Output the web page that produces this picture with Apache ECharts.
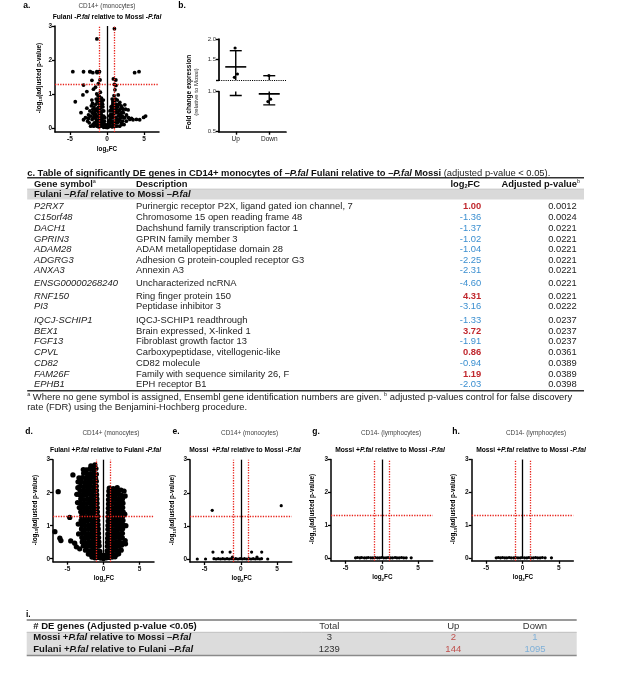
<!DOCTYPE html>
<html><head><meta charset="utf-8">
<script src="https://cdn.jsdelivr.net/npm/echarts@6/dist/echarts.min.js"></script>
<style>html,body{margin:0;padding:0;background:#fff}#c{width:617px;height:700px}</style>
</head><body><div id="c"></div>
<script>
const F = '"Liberation Sans", Arial, Helvetica, sans-serif';

// ---------- Table c : significant DE genes ----------
const cGenes = ['P2RX7','C15orf48','DACH1','GPRIN3','ADAM28','ADGRG3','ANXA3','ENSG00000268240','RNF150','PI3','IQCJ-SCHIP1','BEX1','FGF13','CPVL','CD82','FAM26F','EPHB1'];
const cDescriptions = ['Purinergic receptor P2X, ligand gated ion channel, 7','Chromosome 15 open reading frame 48','Dachshund family transcription factor 1','GPRIN family member 3','ADAM metallopeptidase domain 28','Adhesion G protein-coupled receptor G3','Annexin A3','Uncharacterized ncRNA','Ring finger protein 150','Peptidase inhibitor 3','IQCJ-SCHIP1 readthrough','Brain expressed, X-linked 1','Fibroblast growth factor 13','Carboxypeptidase, vitellogenic-like','CD82 molecule','Family with sequence similarity 26, F','EPH receptor B1'];
const cLog2FC = [1.00,-1.36,-1.37,-1.02,-1.04,-2.25,-2.31,-4.60,4.31,-3.16,-1.33,3.72,-1.91,0.86,-0.94,1.19,-2.03];
const cAdjP = [0.0012,0.0024,0.0221,0.0221,0.0221,0.0221,0.0221,0.0221,0.0221,0.0222,0.0237,0.0237,0.0237,0.0361,0.0389,0.0389,0.0398];

// ---------- Volcano plots (log2FC, -log10 adjusted p) ----------
const volcanoXTicks = [-5,0,5];
const volcanoYTicks = [0,1,2,3];
const foldLines = [-1,1];
const pLine = 1.3;

const aOtherPoints = [[-3.16,1.26],[-1.16,1.30],[-4.27,0.77],[-3.24,0.97],[-2.71,1.07],[-2.04,0.82],[-1.82,1.14],[-1.38,1.00],[-1.02,0.92],[-1.55,1.2],[-0.9,1.05],[-1.2,0.85],[-0.75,0.88],
[1.07,1.12],[1.38,0.82],[1.73,0.75],[2.4,0.68],[2.84,0.53],[1.51,0.97],[1.2,1.25],[0.95,0.95],[0.8,0.78],[1.0,1.28],
[-3.16,0.24],[-2.49,0.38],[-2.71,0.58],[-3.5,0.45],[-2.9,0.3],[-2.3,0.5],[-2.1,0.65],[-1.9,0.55],[-2.6,0.2],
[2.62,0.38],[3.07,0.25],[3.51,0.24],[4.4,0.24],[4.93,0.31],[5.2,0.35],[3.96,0.25],[3.29,0.28],[2.2,0.45],[2.5,0.55],[2.9,0.3],[2.0,0.6],
[-1.8,0.4],[-1.6,0.3],[-1.4,0.5],[-1.2,0.6],[-1.0,0.7],[-0.8,0.6],[-0.6,0.5],[-0.45,0.35],[-0.35,0.2],[-1.5,0.7],[-1.3,0.35],[-1.1,0.45],[-0.9,0.3],[-0.7,0.25],[-0.5,0.15],[-1.7,0.15],[-1.5,0.1],[-1.2,0.2],[-0.9,0.12],[-0.6,0.08],[-0.3,0.05],[-2.0,0.25],[-1.9,0.1],[-1.0,0.55],[-0.8,0.45],[-1.3,0.78],[-0.7,0.75],[-1.6,0.55],[-1.4,0.2],[-0.55,0.62],
[0.3,0.1],[0.4,0.25],[0.5,0.4],[0.6,0.55],[0.7,0.65],[0.9,0.5],[1.1,0.6],[1.3,0.45],[1.5,0.35],[1.7,0.25],[1.9,0.15],[0.6,0.15],[0.8,0.3],[1.0,0.2],[1.2,0.3],[1.4,0.15],[1.6,0.5],[1.8,0.4],[2.1,0.2],[0.8,0.72],[1.0,0.8],[1.2,0.7],[1.45,0.62],[0.5,0.05],[0.2,0.03],[-0.15,0.02],[0.05,0.01],[1.0,0.05],[-0.2,0.1],[1.7,0.05],[-1.1,0.03],[2.3,0.1],
[-2.2,0.35],[-2.0,0.45],[-1.85,0.3],[-1.7,0.45],[-1.55,0.4],[-1.45,0.25],[-1.3,0.55],[-1.25,0.1],[-1.15,0.35],[-1.05,0.25],[-0.95,0.4],[-0.85,0.2],[-0.75,0.38],[-0.65,0.15],[-0.55,0.3],[-0.45,0.5],[-0.4,0.1],[-0.3,0.3],[-1.75,0.62],[-1.45,0.85],[-1.1,0.75],[-0.9,0.65],[-0.6,0.7],[-0.5,0.82],[-2.4,0.15],[-2.2,0.05],[-1.8,0.05],[-1.35,0.05],[-0.8,0.05],[-0.45,0.02],[-0.1,0.05],[-2.5,0.28],[-1.95,0.72],[-1.2,0.95],[-0.85,0.8],
[0.35,0.35],[0.45,0.15],[0.55,0.3],[0.65,0.4],[0.7,0.2],[0.75,0.5],[0.85,0.1],[0.9,0.38],[0.95,0.6],[1.05,0.45],[1.15,0.15],[1.25,0.55],[1.35,0.25],[1.45,0.45],[1.55,0.2],[1.65,0.38],[1.75,0.55],[1.85,0.3],[1.95,0.45],[2.05,0.35],[2.15,0.55],[2.25,0.3],[0.7,0.85],[0.9,0.7],[1.15,0.85],[1.35,0.68],[0.55,0.62],[1.6,0.7],[1.9,0.65],[0.4,0.5],[0.25,0.2],[0.15,0.08],[0.7,0.03],[1.3,0.05],[2.0,0.1],[2.6,0.2],[2.4,0.3]];

const dPoints = [[-1.6,0.05],[-1.2,0.03],[-0.8,0.04],[-0.4,0.02],[0,0.01],[0.4,0.03],[0.8,0.04],[1.2,0.05],[1.6,0.06],
[-2.1,0.14],[-1.7,0.12],[-1.3,0.13],[-0.9,0.14],[-0.5,0.12],[-0.2,0.1],[0.25,0.11],[0.6,0.13],[1.0,0.14],[1.4,0.12],[1.8,0.13],[2.1,0.15],
[-2.5,0.26],[-2.05,0.24],[-1.6,0.25],[-1.15,0.27],[-0.7,0.24],[-0.5,0.22],[0.5,0.24],[0.9,0.26],[1.3,0.25],[1.7,0.27],[2.1,0.24],[2.45,0.26],
[-2.8,0.39],[-2.35,0.37],[-1.9,0.38],[-1.45,0.4],[-1.0,0.37],[-0.6,0.39],[0.55,0.38],[0.95,0.4],[1.35,0.37],[1.75,0.39],[2.15,0.38],[2.5,0.41],
[-2.95,0.51],[-2.5,0.49],[-2.05,0.5],[-1.6,0.52],[-1.15,0.49],[-0.65,0.51],[0.56,0.5],[1.0,0.52],[1.4,0.49],[1.8,0.51],[2.2,0.5],[2.55,0.48],
[-3.0,0.64],[-2.55,0.62],[-2.1,0.63],[-1.65,0.65],[-1.2,0.62],[-0.68,0.64],[0.58,0.62],[1.0,0.64],[1.42,0.63],[1.85,0.65],[2.25,0.62],[2.6,0.64],
[-2.95,0.77],[-2.5,0.75],[-2.05,0.76],[-1.6,0.78],[-1.15,0.75],[-0.7,0.77],[0.6,0.75],[1.02,0.77],[1.45,0.76],[1.88,0.78],[2.28,0.75],[2.62,0.77],
[-3.05,0.9],[-2.6,0.88],[-2.15,0.89],[-1.7,0.91],[-1.25,0.88],[-0.73,0.9],[0.62,0.89],[1.05,0.91],[1.48,0.88],[1.9,0.9],[2.3,0.89],[2.65,0.91],
[-3.0,1.03],[-2.55,1.01],[-2.1,1.02],[-1.65,1.04],[-1.2,1.01],[-0.76,1.03],[0.63,1.01],[1.06,1.03],[1.5,1.02],[1.92,1.04],[2.32,1.01],[2.68,1.03],
[-3.1,1.16],[-2.65,1.14],[-2.2,1.15],[-1.75,1.17],[-1.3,1.14],[-0.8,1.16],[0.65,1.14],[1.08,1.16],[1.52,1.15],[1.95,1.17],[2.35,1.14],[2.7,1.16],
[-3.05,1.29],[-2.6,1.27],[-2.15,1.28],[-1.7,1.3],[-1.25,1.27],[-0.82,1.29],[0.66,1.27],[1.1,1.29],[1.54,1.28],[1.97,1.3],[2.37,1.27],[2.68,1.29],
[-3.15,1.42],[-2.7,1.4],[-2.25,1.41],[-1.8,1.43],[-1.35,1.4],[-0.85,1.42],[0.67,1.4],[1.12,1.42],[1.56,1.41],[2.0,1.43],[2.4,1.4],[2.72,1.42],
[-3.1,1.55],[-2.65,1.53],[-2.2,1.54],[-1.75,1.56],[-1.3,1.53],[-0.87,1.55],[0.68,1.53],[1.13,1.55],[1.58,1.54],[2.02,1.56],[2.42,1.53],[2.66,1.55],
[-3.2,1.68],[-2.75,1.66],[-2.3,1.67],[-1.85,1.69],[-1.4,1.66],[-0.9,1.68],[0.7,1.66],[1.15,1.68],[1.6,1.67],[2.05,1.69],[2.45,1.66],[2.7,1.68],
[-3.15,1.81],[-2.7,1.79],[-2.25,1.8],[-1.8,1.82],[-1.35,1.79],[-0.92,1.81],[0.7,1.79],[1.15,1.81],[1.6,1.8],[2.05,1.82],[2.45,1.79],[2.62,1.81],
[-3.3,1.94],[-2.85,1.92],[-2.4,1.93],[-1.95,1.95],[-1.5,1.92],[-0.95,1.94],[0.72,1.92],[1.18,1.94],[1.62,1.93],[2.08,1.95],[2.5,1.92],
[-3.25,2.07],[-2.8,2.05],[-2.35,2.06],[-1.9,2.08],[-1.45,2.05],[-0.98,2.07],[0.74,2.05],[1.2,2.07],[1.65,2.04],[2.1,2.06],[2.42,2.08],
[-3.2,2.2],[-2.75,2.18],[-2.3,2.19],[-1.85,2.21],[-1.4,2.18],[-1.0,2.2],[0.8,2.14],[1.35,2.12],[1.9,2.15],
[-3.1,2.33],[-2.6,2.31],[-2.15,2.32],[-1.7,2.34],[-1.25,2.31],[-1.0,2.35],
[-2.95,2.46],[-2.45,2.44],[-2.0,2.45],[-1.55,2.47],[-1.1,2.44],
[-2.75,2.59],[-2.25,2.57],[-1.8,2.58],[-1.35,2.6],[-1.0,2.56],
[-2.4,2.69],[-1.9,2.72],[-1.4,2.7],[-1.05,2.73],
[-1.75,2.81],[-1.2,2.84],
[-6.74,0.82],[-6.28,2.03],[-6.05,0.62],[-5.9,0.55],[-4.68,1.25],[-4.54,0.54],[-3.99,0.47],[-3.76,0.36],[-3.3,0.3],[-3.53,2.33],[-4.24,2.54],[-3.6,1.7],[-3.5,1.05],[-3.45,0.75],[-3.7,1.95],[-3.55,2.15],[3.0,1.9],[3.1,1.0],[3.0,0.55],[2.95,1.35],[2.85,2.05],[3.05,0.45],[-2.8,2.7],[-3.35,1.55],[-3.4,2.45]];

const ePoints = [[-3.94,1.47],[5.56,1.61],[-3.84,0.21],[-2.55,0.21],[-1.48,0.21],[1.48,0.21],[2.87,0.21],[-1.16,0.06],[2.22,0.06],
[-6.0,0],[-4.86,0],[-3.7,0.01],[-3.4,0],[-3.1,0.01],[-2.8,0],[-2.5,0.01],[-2.2,0],[-1.9,0.01],[-1.6,0],[-1.3,0.01],[-1.0,0],[-0.7,0.01],[-0.4,0],[-0.1,0.01],[0.2,0],[0.5,0.01],[0.8,0],[1.1,0.01],[1.4,0],[1.7,0.01],[2.0,0],[2.3,0.01],[2.6,0],[2.85,0.01],[3.7,0]];
const gPoints = [[-3.62,0],[-3.35,0.01],[-3.02,0],[-2.78,0.01],[-2.41,0],[-2.13,0],[-1.86,0.01],[-1.52,0],[-1.24,0],[-0.93,0.01],[-0.61,0],[-0.33,0],[-0.05,0.01],[0.27,0],[0.58,0],[0.86,0.01],[1.19,0],[1.47,0],[1.82,0.01],[2.08,0],[2.39,0],[2.71,0.01],[3.02,0],[3.35,0],[4.04,0]];
const hPoints = [[-3.62,0],[-3.33,0.01],[-3.04,0],[-2.75,0.01],[-2.44,0],[-2.16,0],[-1.84,0.01],[-1.55,0],[-1.22,0],[-0.95,0.01],[-0.63,0],[-0.31,0],[-0.04,0.01],[0.29,0],[0.6,0],[0.88,0.01],[1.17,0],[1.49,0],[1.8,0.01],[2.1,0],[2.42,0],[2.74,0.01],[3.12,0],[3.99,0]];

// ---------- Panel b : fold change ----------
const bCategories = ['Up','Down'];
const bPoints = [[0.48,1.78],[0.55,1.146],[0.46,1.066],[1.49,1.11],[1.54,0.905],[1.46,0.875]];
const bMean = [1.32, 0.97];
const bErrLow = [0.95, 0.834];
const bErrHigh = [1.715, 1.105];
const bUpperTicks = [1, 1.5, 2];
const bUpperLabels = [1.5, 2];
const bLowerTicks = [0.5, 1];

// ---------- Table i ----------
const iGroups = [['Mossi +','Mossi –'],['Fulani +','Fulani –']];
const iTotal = [3, 1239];
const iUp = [2, 144];
const iDown = [1, 1095];

// ================= build =================
const RED = '#c0272d', BLUE = '#3b8fd0', REFRED = '#e8231b';
const grids = [], xAxes = [], yAxes = [], series = [];
const dotted = {type:'dotted', color:REFRED, width:1.3};

function axisBase(extra){ return Object.assign({splitLine:{show:false}}, extra); }

function addVolcano(g, pts, sym){
  const i = grids.length;
  grids.push({left:g.l, top:g.t, width:g.w, height:g.h});
  xAxes.push(axisBase({gridIndex:i, type:'value', min:-7, max:7,
    axisLine:{show:true, onZero:false, lineStyle:{color:'#000', width:1.5}},
    axisTick:{show:true, customValues:volcanoXTicks, length:3, lineStyle:{color:'#000', width:1.3}},
    axisLabel:{customValues:volcanoXTicks, fontSize:6.5, fontWeight:'bold', fontFamily:F, color:'#111', margin:4}}));
  yAxes.push(axisBase({gridIndex:i, type:'value', min:g.ymin, max:3,
    axisLine:{show:true, onZero:false, lineStyle:{color:'#000', width:1.5}},
    axisTick:{show:true, customValues:volcanoYTicks, length:3, lineStyle:{color:'#000', width:1.3}},
    axisLabel:{customValues:volcanoYTicks, fontSize:6.5, fontWeight:'bold', fontFamily:F, color:'#111', margin:3}}));
  series.push({type:'scatter', xAxisIndex:i, yAxisIndex:i, data:[], z:1, silent:true,
    markLine:{silent:true, symbol:['none','none'], label:{show:false}, animation:false,
      lineStyle:dotted,
      data:[{xAxis:foldLines[0], lineStyle:dotted},{xAxis:foldLines[1], lineStyle:dotted},{yAxis:pLine, lineStyle:dotted},
        [{coord:[0,0], lineStyle:{type:'solid', color:'#000', width:1.3}},{coord:[0,3]}]]}});
  series.push({type:'scatter', xAxisIndex:i, yAxisIndex:i, data:pts, symbol:'circle', symbolSize:sym,
    itemStyle:{color:'#000', opacity:1, borderWidth:0}, z:2, silent:true, animation:false, large:false});
}

const aSigPoints = cLog2FC.map((v,k)=>[v, -Math.log10(cAdjP[k])]);
addVolcano({l:55, t:26, w:104, h:106, ymin:-0.12}, aOtherPoints.concat(aSigPoints), 3.8);
addVolcano({l:53, t:459.7, w:101, h:102, ymin:-0.09}, dPoints, 5.3);
addVolcano({l:190, t:459.7, w:101.7, h:102.3, ymin:-0.09}, ePoints, 3.2);
addVolcano({l:331, t:459.5, w:101.7, h:101.3, ymin:-0.09}, gPoints, 3.2);
addVolcano({l:471.7, t:459.5, w:101.6, h:101.3, ymin:-0.09}, hPoints, 3.2);

// panel b : split y axis (two grids)
function bRender(params, api){
  const x = api.value(0), m = api.value(1), lo = api.value(2), hi = api.value(3);
  const pm = api.coord([x,m]), pl = api.coord([x,lo]), ph = api.coord([x,hi]);
  const s = {stroke:'#000', lineWidth:1.4};
  return {type:'group', children:[
    {type:'line', shape:{x1:pm[0]-10.5, y1:pm[1], x2:pm[0]+10.5, y2:pm[1]}, style:{stroke:'#000', lineWidth:1.6}},
    {type:'line', shape:{x1:pl[0], y1:pl[1], x2:ph[0], y2:ph[1]}, style:s},
    {type:'line', shape:{x1:pl[0]-6, y1:pl[1], x2:pl[0]+6, y2:pl[1]}, style:s},
    {type:'line', shape:{x1:ph[0]-6, y1:ph[1], x2:ph[0]+6, y2:ph[1]}, style:s}
  ]};
}
const bErrData = bCategories.map((c,k)=>[k+0.5, bMean[k], bErrLow[k], bErrHigh[k]]);
[{t:39, h:41, min:1, max:2, ticks:bUpperTicks, labels:bUpperLabels, showX:false},
 {t:91.5, h:40.2, min:0.5, max:1, ticks:bLowerTicks, labels:bLowerTicks, showX:true}].forEach(cfg=>{
  const i = grids.length;
  grids.push({left:219, top:cfg.t, width:67, height:cfg.h});
  xAxes.push(axisBase({gridIndex:i, type:'value', min:0, max:bCategories.length, show:cfg.showX,
    axisLine:{show:true, onZero:false, lineStyle:{color:'#000', width:1.7}},
    axisTick:{show:true, customValues:bCategories.map((c,k)=>k+0.5), length:3, lineStyle:{color:'#000', width:1.4}},
    axisLabel:{customValues:bCategories.map((c,k)=>k+0.5), formatter:v=>bCategories[Math.floor(v)],
      fontSize:6.5, fontFamily:F, color:'#222', margin:4}}));
  yAxes.push(axisBase({gridIndex:i, type:'value', min:cfg.min, max:cfg.max,
    axisLine:{show:true, onZero:false, lineStyle:{color:'#000', width:1.7}},
    axisTick:{show:true, customValues:cfg.ticks, length:3, lineStyle:{color:'#000', width:1.4}},
    axisLabel:{customValues:cfg.labels, formatter:v=>v.toFixed(1), fontSize:6, fontFamily:F, color:'#333', margin:3}}));
  series.push({type:'custom', xAxisIndex:i, yAxisIndex:i, data:bErrData, renderItem:bRender, clip:true, silent:true, animation:false, z:3});
  series.push({type:'scatter', xAxisIndex:i, yAxisIndex:i, data:bPoints, symbol:'circle', symbolSize:3.2,
    itemStyle:{color:'#000', opacity:1, borderWidth:0}, clip:true, silent:true, animation:false, z:4});
  if (!cfg.showX) {
    const dl = {type:'dotted', color:'#000', width:1.1};
    series.push({type:'scatter', xAxisIndex:i, yAxisIndex:i, data:[], clip:false, silent:true,
      markLine:{silent:true, symbol:['none','none'], label:{show:false}, animation:false,
        lineStyle:dl, data:[{yAxis:1, lineStyle:dl}]}});
  }
});

// ================= text / tables =================
function st(size, weight, style, color, extra){
  return Object.assign({fontSize:size, fontFamily:F, fontWeight:weight||'normal', fontStyle:style||'normal', fill:color||'#000'}, extra||{});
}
function T(x, y, text, o){
  o = o || {};
  return {type:'text', x:x, y:y, rotation:o.rot||0, silent:true, z:10,
    style:Object.assign(st(o.size||9, o.weight, o.fstyle, o.color), {text:text, align:o.align||'left', verticalAlign:'middle', rich:o.rich})};
}
function L(x1,y1,x2,y2,color,w,dash){ return {type:'line', silent:true, z:5, shape:{x1,y1,x2,y2}, style:{stroke:color, lineWidth:w, lineDash:dash||null}}; }
function R(x,y,w,h,fill){ return {type:'rect', silent:true, z:1, shape:{x,y,width:w,height:h}, style:{fill}}; }

const els = [];
const TS = 9.4; // table c font size
const richC = {
  b: st(TS,'bold','normal','#111',{lineHeight:11}), bi: st(TS,'bold','italic','#111',{lineHeight:11}),
  r: st(TS,'normal','normal','#222',{lineHeight:11}), sup: st(5.5,'normal','normal','#222',{verticalAlign:'top'}),
  sub: st(5.5,'bold','normal','#111',{verticalAlign:'bottom'})
};
const richSub = {b: st(6.7,'bold'), bi: st(6.7,'bold','italic')};
const richAx = {b: st(6.3,'bold','normal','#000',{lineHeight:8}), s: st(4.4,'bold','normal','#000',{verticalAlign:'bottom'})};
const richI = {b: st(9.5,'bold','normal','#111'), bi: st(9.5,'bold','italic','#111')};

// panel letters
[['a.',26.7,5.5],['b.',182,5.5],['d.',29,431.7],['e.',176,431.7],['g.',316,431.7],['h.',456,431.7]].forEach(p=>
  els.push(T(p[1], p[2], p[0], {size:8.5, weight:'bold', align:'center'})));

// volcano titles
const vTitles = [
  {t:'CD14+ (monocytes)', tx:107, sx:107, ty:6, sy:17.3, s:'{b|Fulani -}{bi|P.fal}{b| relative to Mossi -}{bi|P.fal}'},
  {t:'CD14+ (monocytes)', tx:111, sx:105.6, ty:433, sy:450, s:'{b|Fulani +}{bi|P.fal}{b| relative to Fulani -}{bi|P.fal}'},
  {t:'CD14+ (monocytes)', tx:249.6, sx:245, ty:433, sy:450, s:'{b|Mossi  +}{bi|P.fal}{b| relative to Mossi -}{bi|P.fal}'},
  {t:'CD14- (lymphocytes)', tx:391, sx:390, ty:433, sy:450, s:'{b|Mossi +}{bi|P.fal}{b| relative to Mossi -}{bi|P.fal}'},
  {t:'CD14- (lymphocytes)', tx:536, sx:531, ty:433, sy:450, s:'{b|Mossi +}{bi|P.fal}{b| relative to Mossi -}{bi|P.fal}'}
];
vTitles.forEach(v=>{
  els.push(T(v.tx, v.ty, v.t, {size:6.4, align:'center', color:'#444'}));
  els.push(T(v.sx, v.sy, v.s, {size:6.7, align:'center', rich:richSub}));
});
// volcano axis names
const yName = '{b|-log}{s|10}{b|(adjusted p-value)}';
const xName = '{b|log}{s|2}{b|FC}';
[[39,78,107,149],[35,510,104,578.3],[172.3,510,241.7,578.3],[312.3,509,382.3,577.5],[453.3,509,523,577.5]].forEach(p=>{
  els.push(T(p[0], p[1], yName, {size:6.3, align:'center', rot:Math.PI/2, rich:richAx}));
  els.push(T(p[2], p[3], xName, {size:6.3, align:'center', rich:richAx}));
});
// panel b axis name
els.push(T(189, 92, 'Fold change expression', {size:6.5, weight:'bold', align:'center', rot:Math.PI/2}));
els.push(T(196.5, 92, '(relative to Mossi)', {size:6, align:'center', rot:Math.PI/2, color:'#222'}));

// ---- table c ----
const cRowY = [206.7,217.7,228.3,239,249.7,260.3,270.7,283.3,296,306.7,320,331,341.7,352.7,363.3,374.3,384.7];
els.push(T(27.2, 173.3, '{b|c. Table of significantly DE genes in CD14+ monocytes of –}{bi|P.fal}{b| Fulani relative to –}{bi|P.fal}{b| Mossi}{r| (adjusted p-value < 0.05).}', {size:TS, rich:richC}));
els.push(L(27.2,177.7,584,177.7,'#333',1.5));
els.push(T(34, 184, '{b|Gene symbol}{sup|a}', {size:TS, rich:richC}));
els.push(T(136, 184, 'Description', {size:TS, weight:'bold', color:'#111'}));
els.push(T(480, 184, '{b|log}{sub|2}{b|FC}', {size:TS, align:'right', rich:richC}));
els.push(T(580, 184, '{b|Adjusted p-value}{sup|b}', {size:TS, align:'right', rich:richC}));
els.push(R(27.2, 189, 556.8, 10.6, '#d9d9d9'));
els.push(L(27.2,189,584,189,'#bdbdbd',0.6));
els.push(T(34, 194.3, '{b|Fulani –}{bi|P.fal}{b| relative to Mossi –}{bi|P.fal}', {size:TS, rich:richC}));
cGenes.forEach((g,k)=>{
  const y = cRowY[k];
  const up = cLog2FC[k] > 0;
  els.push(T(34, y, g, {size:TS, fstyle:'italic', color:'#222'}));
  els.push(T(136, y, cDescriptions[k], {size:TS, color:'#222'}));
  els.push(T(481.2, y, cLog2FC[k].toFixed(2), {size:TS, align:'right', weight:up?'bold':'normal', color:up?RED:BLUE}));
  els.push(T(576.8, y, cAdjP[k].toFixed(4), {size:TS, align:'right', color:'#222'}));
});
els.push(L(27.2,390.7,584,390.7,'#333',1.5));
els.push(T(27.2, 397.3, '{sup|a}{r| Where no gene symbol is assigned, Ensembl gene identification numbers are given. }{sup|b}{r| adjusted p-values control for false discovery}', {size:TS, rich:richC}));
els.push(T(27.2, 407.7, 'rate (FDR) using the Benjamini-Hochberg procedure.', {size:TS, color:'#222'}));

// ---- table i ----
els.push(T(28.3, 615, 'i.', {size:8.5, weight:'bold', align:'center'}));
els.push(L(26.7,620,576.7,620,'#9a9a9a',2));
els.push(T(33.3, 626.7, '# DE genes (Adjusted p-value <0.05)', {size:9.5, weight:'bold', color:'#111'}));
els.push(T(329.3, 626.7, 'Total', {size:9.5, align:'center', color:'#333'}));
els.push(T(453.3, 626.7, 'Up', {size:9.5, align:'center', color:'#333'}));
els.push(T(535, 626.7, 'Down', {size:9.5, align:'center', color:'#333'}));
els.push(R(26.7, 632.3, 550, 22.7, '#dcdcdc'));
els.push(L(26.7,632.3,576.7,632.3,'#b5b5b5',0.8));
const iRowY = [637.7, 649.3];
iGroups.forEach((gp,k)=>{
  const y = iRowY[k];
  els.push(T(33.3, y, '{b|'+gp[0]+'}{bi|P.fal}{b| relative to '+gp[1]+'}{bi|P.fal}', {size:9.5, rich:richI}));
  els.push(T(329.3, y, String(iTotal[k]), {size:9.5, align:'center', color:'#333'}));
  els.push(T(453.3, y, String(iUp[k]), {size:9.5, align:'center', color:'#c0504d'}));
  els.push(T(535, y, String(iDown[k]), {size:9.5, align:'center', color:'#7fb0d8'}));
});
els.push(L(26.7,655.5,576.7,655.5,'#8a8a8a',1.6));

const chart = echarts.init(document.getElementById('c'), null, {renderer:'canvas'});
chart.setOption({
  animation:false,
  backgroundColor:'#fff',
  grid:grids, xAxis:xAxes, yAxis:yAxes, series:series,
  graphic:{elements:els}
});
</script></body></html>
